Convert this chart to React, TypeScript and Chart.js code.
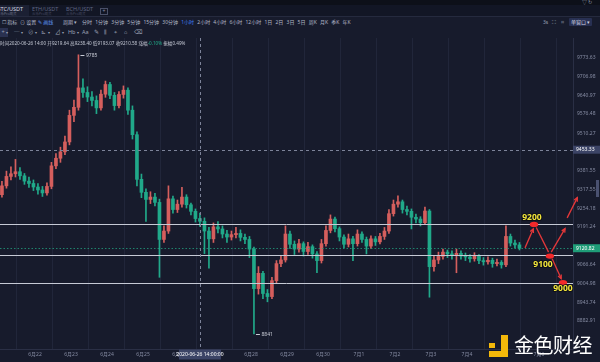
import React, { useEffect, useRef } from "react";
import { Chart, registerables } from "chart.js";
Chart.register(...registerables);

// ---------- data ----------
const firstOpen = 9300;
const candleStartHour = -22; // hours from 2020-06-22 00:00
const candleStepHours = 3;
const closes = [
  9330, 9362, 9371, 9378, 9364, 9346, 9338, 9326, 9316, 9306,
  9328, 9398, 9424, 9446, 9480, 9572, 9600, 9668, 9652, 9636,
  9624, 9598, 9646, 9680, 9642, 9606, 9645, 9660, 9590, 9505,
  9352, 9308, 9284, 9292, 9274, 9150, 9178, 9286, 9250, 9268,
  9292, 9266, 9244, 9219.64, 9210.58, 9178, 9152, 9192, 9185, 9168,
  9158, 9166, 9170, 9157, 9150, 9118, 8988, 9038, 8972, 8962,
  9014, 9070, 9082, 9168, 9134, 9118, 9136, 9110, 9126, 9102,
  9080, 9136, 9180, 9218, 9186, 9158, 9134, 9152, 9136, 9168,
  9150, 9128, 9152, 9142, 9160, 9178, 9236, 9268, 9276, 9250,
  9244, 9224, 9218, 9206, 9245, 9060, 9082, 9094, 9108, 9102,
  9097, 9104, 9095, 9092, 9086, 9094, 9080, 9076, 9081, 9070,
  9074, 9066, 9160, 9138, 9132, 9120.82,
];
const highs = [
  9345, 9380, 9395, 9420, 9392, 9372, 9360, 9350, 9338, 9328,
  9340, 9410, 9440, 9462, 9500, 9590, 9625, 9785, 9700, 9672,
  9655, 9640, 9660, 9692, 9688, 9652, 9655, 9675, 9668, 9605,
  9515, 9370, 9320, 9310, 9305, 9285, 9195, 9330, 9295, 9282,
  9325, 9300, 9272, 9252, 9238.4, 9222, 9190, 9205, 9210, 9195,
  9180, 9178, 9190, 9182, 9168, 9160, 9125, 9060, 9045, 8985,
  9025, 9080, 9095, 9195, 9178, 9145, 9150, 9142, 9140, 9132,
  9110, 9150, 9195, 9232, 9225, 9192, 9165, 9168, 9160, 9182,
  9175, 9158, 9162, 9160, 9170, 9190, 9250, 9282, 9296, 9282,
  9262, 9252, 9235, 9226, 9258, 9250, 9095, 9108, 9118, 9115,
  9112, 9118, 9112, 9105, 9100, 9106, 9100, 9090, 9092, 9088,
  9085, 9080, 9195, 9168, 9148, 9140,
];
const lows = [
  9292, 9322, 9350, 9360, 9352, 9335, 9325, 9314, 9302, 9294,
  9298, 9320, 9388, 9410, 9436, 9470, 9550, 9590, 9635, 9620,
  9605, 9578, 9590, 9635, 9630, 9590, 9598, 9632, 9575, 9490,
  9330, 9290, 9210, 9270, 9262, 9025, 9140, 9170, 9238, 9240,
  9258, 9255, 9232, 9208, 9193.07, 9103, 9055, 9140, 9172, 9155,
  9140, 9148, 9155, 9145, 9136, 9090, 8841, 8970, 8955, 8945,
  8955, 9005, 9060, 9075, 9120, 9100, 9108, 9095, 9100, 9088,
  9040, 9072, 9128, 9172, 9175, 9145, 9122, 9125, 9080, 9128,
  9140, 9102, 9120, 9130, 9135, 9150, 9170, 9228, 9258, 9238,
  9232, 9185, 9205, 9195, 9200, 8960, 9045, 9070, 9085, 9090,
  9085, 9040, 9085, 9080, 9075, 9078, 9070, 9065, 9068, 9058,
  9062, 9055, 9060, 9128, 9122, 9115,
];

const dayTickHours = [0, 24, 48, 72, 96, 120, 144, 168, 192, 216, 240, 264, 288, 312, 336];
const dayLabels = ["6月22", "6月23", "6月24", "6月25", "6月26", "6月27", "6月28", "6月29", "6月30", "7月1", "7月2", "7月3", "7月4", "7月5", "7月6"];
const priceTicks = [9773.63, 9706.98, 9640.97, 9576.48, 9510.27, 9381.55, 9317.55, 9254.18, 9191.24, 9066.64, 9004.98, 8943.74, 8882.91];
const xRange = [-23.3, 358.7];
const yRange = [8792.9, 9844.9];

const levelPrices = [9200, 9100, 9005];
const lastPrice = 9120.82;
const crossHour = 110;
const crossPrice = 9453.33;
const crossTimeLabel = "2020-06-26 14:00:00";
const highMark = { hour: 29, price: 9785 };
const lowMark = { hour: 146, price: 8841 };
// forecast marks [hour, price, label]
const targetDots = [
  [332.7, 9200, "9200"],
  [343.3, 9095, "9100"],
  [352, 9008, "9000"],
] as const;
const targetLabels = [
  [331.3, 9222, "9200"],
  [338.7, 9068, "9100"],
  [352, 8987, "9000"],
] as const;
// arrows [h1, p1, h2, p2, head]
const arrows = [
  [326.7, 9122, 332.2, 9185, 1],
  [334.2, 9190, 342.4, 9108, 0],
  [344.2, 9108, 353.4, 9186, 1],
  [344.8, 9086, 350.8, 9021, 1],
  [354.8, 9222, 361.6, 9290, 1],
] as const;

const periods = ["分时", "1分钟", "3分钟", "5分钟", "15分钟", "30分钟", "1小时", "2小时", "4小时", "6小时", "12小时", "1日", "2日", "3日", "5日", "周K", "月K", "季K", "年K"];

// ---------- styles ----------
const BG = "#171b2c";
const UP = "#d55f5d";
const DOWN = "#21a98a";
const AXIS_TXT = "#868ca3";
const FONT = '"Noto Sans", "Noto Sans CJK SC", sans-serif';

function drawArrow(ctx: CanvasRenderingContext2D, x1: number, y1: number, x2: number, y2: number, head: boolean) {
  ctx.beginPath();
  ctx.moveTo(x1, y1);
  ctx.lineTo(x2, y2);
  ctx.stroke();
  if (head) {
    const ang = Math.atan2(y2 - y1, x2 - x1);
    const L = 4;
    ctx.beginPath();
    ctx.moveTo(x2 - L * Math.cos(ang - 0.45), y2 - L * Math.sin(ang - 0.45));
    ctx.lineTo(x2, y2);
    ctx.lineTo(x2 - L * Math.cos(ang + 0.45), y2 - L * Math.sin(ang + 0.45));
    ctx.stroke();
  }
}

const overlayPlugin = {
  id: "overlay",
  afterDatasetsDraw(chart: any) {
    const { ctx, chartArea: a, scales } = chart;
    const x = scales.x, y = scales.y;
    ctx.save();
    // horizontal levels
    ctx.strokeStyle = "#c6cad5";
    ctx.lineWidth = 1;
    levelPrices.forEach((p) => {
      const py = Math.round(y.getPixelForValue(p)) + 0.5;
      ctx.beginPath();
      ctx.moveTo(a.left, py);
      ctx.lineTo(a.right, py);
      ctx.stroke();
    });
    // last price dashed
    ctx.strokeStyle = "rgba(35,168,132,0.75)";
    ctx.setLineDash([1.5, 2]);
    let py = Math.round(y.getPixelForValue(lastPrice)) + 0.5;
    ctx.beginPath();
    ctx.moveTo(a.left, py);
    ctx.lineTo(a.right, py);
    ctx.stroke();
    // crosshair
    ctx.strokeStyle = "#7d8399";
    ctx.setLineDash([3, 3]);
    py = Math.round(y.getPixelForValue(crossPrice)) + 0.5;
    ctx.beginPath();
    ctx.moveTo(a.left, py);
    ctx.lineTo(a.right, py);
    ctx.stroke();
    const cx = Math.round(x.getPixelForValue(crossHour)) + 0.5;
    ctx.beginPath();
    ctx.moveTo(cx, 0);
    ctx.lineTo(cx, a.bottom);
    ctx.stroke();
    ctx.setLineDash([]);
    ctx.restore();
  },
  afterDraw(chart: any) {
    const { ctx, chartArea: a, scales } = chart;
    const x = scales.x, y = scales.y;
    ctx.save();
    ctx.font = `5px ${FONT}`;
    ctx.textBaseline = "middle";
    // price boxes
    const box = (p: number, fill: string) => {
      const py = y.getPixelForValue(p);
      ctx.fillStyle = fill;
      ctx.fillRect(a.right, py - 4, 27, 8);
      ctx.fillStyle = "#ffffff";
      ctx.textAlign = "left";
      ctx.fillText(p.toFixed(2), a.right + 3, py);
    };
    box(crossPrice, "#3c4466");
    box(lastPrice, "#1f9d78");
    // time box
    const cx = x.getPixelForValue(crossHour);
    ctx.fillStyle = "#3c4466";
    ctx.fillRect(cx - 21, a.bottom + 0.5, 42, 10);
    ctx.fillStyle = "#ffffff";
    ctx.textAlign = "center";
    ctx.fillText(crossTimeLabel, cx, a.bottom + 5.5);
    // high / low marks
    ctx.textAlign = "left";
    ctx.fillStyle = "#c9ccd6";
    ctx.strokeStyle = "#c9ccd6";
    ctx.lineWidth = 1;
    [highMark, lowMark].forEach((m) => {
      const mx = x.getPixelForValue(m.hour) + 2;
      const my = Math.round(y.getPixelForValue(m.price)) + 0.5;
      ctx.beginPath();
      ctx.moveTo(mx, my);
      ctx.lineTo(mx + 4, my);
      ctx.stroke();
      ctx.fillText(String(m.price), mx + 5.5, my);
    });
    // arrows
    ctx.strokeStyle = "#e5383a";
    ctx.lineWidth = 1.3;
    arrows.forEach(([h1, p1, h2, p2, hd]) => {
      drawArrow(ctx, x.getPixelForValue(h1), y.getPixelForValue(p1), x.getPixelForValue(h2), y.getPixelForValue(p2), !!hd);
    });
    // dots
    ctx.fillStyle = "#f2292b";
    targetDots.forEach(([h, p]) => {
      ctx.beginPath();
      ctx.ellipse(x.getPixelForValue(h), y.getPixelForValue(p), 4.2, 2.6, 0, 0, Math.PI * 2);
      ctx.fill();
    });
    // labels
    ctx.font = `bold 8.5px ${FONT}`;
    ctx.textAlign = "center";
    ctx.lineWidth = 2;
    ctx.strokeStyle = "rgba(10,12,20,0.7)";
    targetLabels.forEach(([h, p, t]) => {
      const tx = x.getPixelForValue(h), ty = y.getPixelForValue(p);
      ctx.strokeText(t, tx, ty);
      ctx.fillStyle = "#f3e63a";
      ctx.fillText(t, tx, ty);
    });
    ctx.restore();
  },
};

export default function App() {
  const ref = useRef<HTMLCanvasElement | null>(null);
  useEffect(() => {
    document.body.style.margin = "0";
    document.body.style.background = BG;
    const opens = closes.map((c, i) => (i === 0 ? firstOpen : closes[i - 1]));
    const hours = closes.map((_, i) => candleStartHour + i * candleStepHours);
    const colors = closes.map((c, i) => (c >= opens[i] ? UP : DOWN));
    const wickData = hours.map((h, i) => ({ x: h, y: [lows[i], highs[i]] }));
    const bodyData = hours.map((h, i) => ({ x: h, y: [opens[i], closes[i]] }));

    const chart = new Chart(ref.current as HTMLCanvasElement, {
      type: "bar",
      data: {
        datasets: [
          { data: wickData as any, backgroundColor: colors, barThickness: 1, grouped: false, minBarLength: 1 } as any,
          { data: bodyData as any, backgroundColor: colors, barThickness: 3, grouped: false, minBarLength: 1 } as any,
        ],
      },
      options: {
        responsive: false,
        animation: false,
        devicePixelRatio: 1,
        layout: { padding: 0 },
        plugins: { legend: { display: false }, tooltip: { enabled: false } },
        scales: {
          x: {
            type: "linear",
            min: xRange[0],
            max: xRange[1],
            offset: false,
            bounds: "data",
            afterBuildTicks: (s: any) => {
              s.ticks = dayTickHours.map((v) => ({ value: v }));
            },
            afterFit: (s: any) => {
              s.height = 13;
              s.paddingLeft = 0;
              s.paddingRight = 0;
            },
            ticks: {
              autoSkip: false,
              maxRotation: 0,
              padding: 3,
              color: AXIS_TXT,
              font: { size: 5, family: FONT },
              callback: (_v: any, i: number) => dayLabels[i],
            },
            grid: { display: true, color: "#21263a", drawTicks: false },
            border: { display: true, color: "#2a2f45" },
          },
          y: {
            type: "logarithmic",
            position: "right",
            min: yRange[0],
            max: yRange[1],
            bounds: "data",
            afterBuildTicks: (s: any) => {
              s.ticks = priceTicks.map((v) => ({ value: v }));
            },
            afterFit: (s: any) => {
              s.width = 27;
              s.paddingTop = 0;
              s.paddingBottom = 0;
            },
            ticks: {
              autoSkip: false,
              padding: 4,
              color: AXIS_TXT,
              font: { size: 5, family: FONT },
              callback: (v: any) => Number(v).toFixed(2),
            },
            grid: { display: false, drawTicks: false },
            border: { display: true, color: "#2a2f45" },
          },
        },
      },
      plugins: [overlayPlugin],
    } as any);
    return () => chart.destroy();
  }, []);

  const t = (s: React.CSSProperties): React.CSSProperties => ({ position: "absolute", whiteSpace: "nowrap", lineHeight: 1, ...s });

  return (
    <div style={{ position: "relative", width: 600, height: 362, background: BG, overflow: "hidden", fontFamily: FONT }}>
      {/* top strip */}
      <div style={t({ left: 0, top: 0, width: 600, height: 5, background: "#0d1019" })} />
      <div style={t({ left: 582, top: 0, fontSize: 5, color: "#8a90a5" })}>▽ ↻</div>
      {/* tabs */}
      <div style={t({ left: 0, top: 5, width: 600, height: 11, background: "#121625", borderBottom: "1px solid #252a3e" })} />
      <div style={t({ left: 0, top: 5, width: 29, height: 11, background: "#1b2033" })} />
      <div style={t({ left: -3, top: 6.5, fontSize: 5.5, color: "#d7dae3" })}>BTC/USDT</div>
      <div style={t({ left: -3, top: 12, fontSize: 3.5, color: "#6c7288" })}>火币Pro现货</div>
      <div style={t({ left: 32, top: 6.5, fontSize: 5.5, color: "#5f6580" })}>ETH/USDT</div>
      <div style={t({ left: 32, top: 12, fontSize: 3.5, color: "#474c63" })}>火币Pro现货</div>
      <div style={t({ left: 66, top: 6.5, fontSize: 5.5, color: "#5f6580" })}>BCH/USDT</div>
      <div style={t({ left: 66, top: 12, fontSize: 3.5, color: "#474c63" })}>火币Pro现货</div>
      <div style={t({ left: 100, top: 8, width: 6, height: 5, border: "1px solid #4a5068", fontSize: 5, color: "#8a90a5", textAlign: "center" })}>+</div>
      {/* toolbar row */}
      <div style={t({ left: 2, top: 20, fontSize: 5, color: "#b3b8c8" })}>☐ 指标</div>
      <div style={t({ left: 20, top: 20, fontSize: 5, color: "#b3b8c8" })}>⊙ 设置</div>
      <div style={t({ left: 38, top: 20, fontSize: 5, color: "#5d93f0" })}>✎ 画线</div>
      <div style={t({ left: 63, top: 20, fontSize: 5, color: "#b3b8c8" })}>周期 ▾</div>
      <div style={t({ left: 82, top: 20, fontSize: 5, display: "flex", gap: 3.2 })}>
        {periods.map((p) => (
          <span key={p} style={{ color: p === "1小时" ? "#3f7ef3" : "#b3b8c8" }}>{p}</span>
        ))}
      </div>
      <div style={t({ left: 543, top: 20, fontSize: 5, color: "#9ba1b4" })}>3s</div>
      <div style={t({ left: 552, top: 19.5, fontSize: 5.5, color: "#9ba1b4" })}>⛶</div>
      <div style={t({ left: 561, top: 19.5, fontSize: 5.5, color: "#9ba1b4" })}>⌗</div>
      <div style={t({ left: 569, top: 18, width: 23, height: 8, background: "#283052", borderRadius: 1 })} />
      <div style={t({ left: 571, top: 19.5, fontSize: 5, color: "#d0d4e0" })}>单窗口 ▾</div>
      {/* drawing tools row */}
      <div style={t({ left: 0, top: 28, width: 8, height: 9, background: "#2a3150" })} />
      {["+", "─", "⊘", "⊾", "⊿", "Hb", "Aa", "✎", "⫼", "⌖", "⌂", "⌫"].map((g, i) => (
        <div key={i} style={t({ left: [1.5, 14, 28, 41, 55, 68, 82, 94, 104, 114, 124, 134][i], top: 30, fontSize: 5.5, color: "#9ba1b4" })}>
          {g}
          {i < 6 ? <span style={{ fontSize: 3.5, marginLeft: 1.5 }}>▾</span> : null}
        </div>
      ))}
      {/* chart */}
      <div style={t({ left: 0, top: 38, width: 600, height: 324 })}>
        <canvas ref={ref} width={600} height={324} style={{ width: 600, height: 324, display: "block" }} />
      </div>
      {/* OHLC info */}
      <div style={t({ left: 0, top: 41, fontSize: 4.6, color: "#c3c7d3" })}>
        时间2020-06-26 14:00 开9219.64 高9238.40 低9193.07 收9210.58 涨幅<span style={{ color: "#21b08c" }}>-0.10%</span> 振幅0.49%
      </div>
      {/* scrollbar */}
      <div style={t({ left: 596, top: 180, width: 3, height: 17, background: "#4a5170" })} />
      {/* watermark */}
      <div style={t({ left: 489, top: 343, width: 6, height: 5, background: "#f3b80a" })} />
      <div style={t({ left: 501, top: 335, width: 7, height: 22, background: "#f3b80a" })} />
      <div style={t({ left: 489, top: 351, width: 19, height: 6, background: "#f3b80a" })} />
      <div style={t({ left: 514, top: 335, fontSize: 20, color: "#ffffff", fontFamily: '"Noto Sans CJK SC", sans-serif', letterSpacing: -0.5 })}>金色财经</div>
    </div>
  );
}
